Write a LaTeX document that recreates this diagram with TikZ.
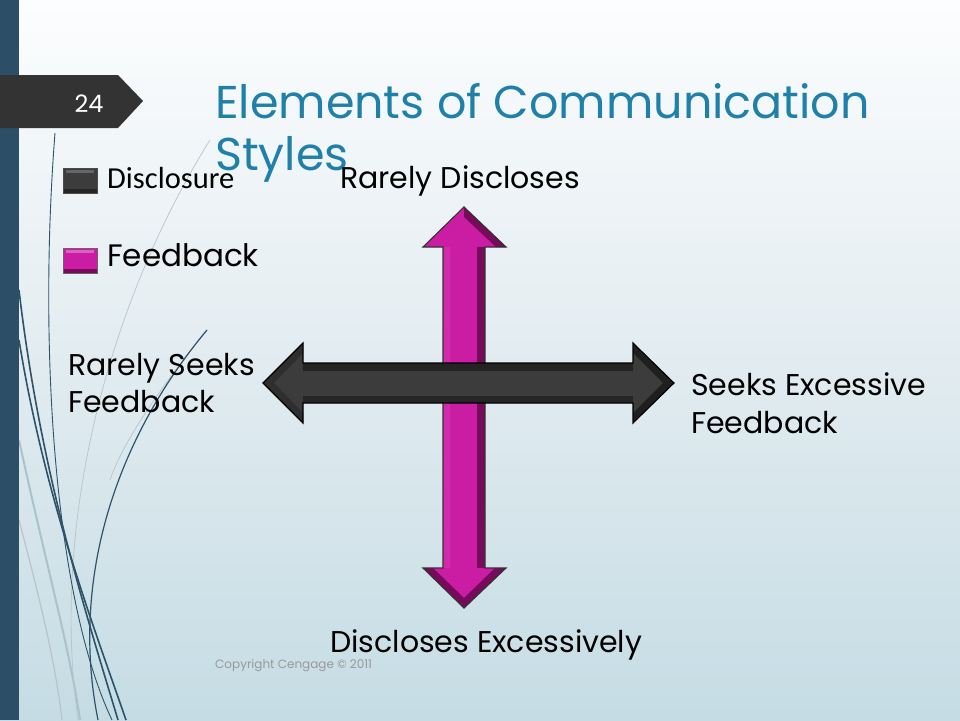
\documentclass[tikz,border=0pt]{standalone}
\usepackage{fontspec}
\setmainfont{Poppins}
\newfontfamily\calib{Carlito}
\definecolor{bgtop}{HTML}{FCFDFE}
\definecolor{bgmid}{HTML}{E2ECF0}
\definecolor{bgbot}{HTML}{C5DCE4}
\definecolor{barblue}{HTML}{2C4F67}
\definecolor{tabgray}{HTML}{333333}
\definecolor{titleblue}{HTML}{1F80A9}
\definecolor{magmain}{HTML}{CB1DA3}
\definecolor{magdark}{HTML}{760B5B}
\definecolor{maglight}{HTML}{D22AAD}
\definecolor{darkmain}{HTML}{3C3C3C}
\definecolor{darkband}{HTML}{232323}
\definecolor{curvedark}{HTML}{2E5269}
\definecolor{curvelight}{HTML}{A9C2CC}
\definecolor{curvegray}{HTML}{B8C4CA}
\tikzset{
  lbl/.style={anchor=base west, inner sep=0pt, text=black},
  big/.style={font=\fontsize{30}{35}\selectfont},
  deco/.style={curvedark, line width=1.6pt},
  decothin/.style={curvedark, line width=0.9pt},
  decolight/.style={curvelight, line width=2pt},
  arrowline/.style={line width=1.1pt, line join=miter}
}
\begin{document}
\begin{tikzpicture}[x=1pt,y=-1pt]
\useasboundingbox (0,0) rectangle (960,720);
% background
\shade[top color=bgtop, bottom color=bgbot, middle color=bgmid] (0,0) rectangle (960,720);
% decorative curves
\draw[decolight] (19,440) .. controls (45,560) and (70,650) .. (80,720);
\draw[decolight, curvegray, line width=1.2pt] (19,520) .. controls (40,600) and (55,660) .. (62,720);
\draw[curvegray, line width=0.7pt] (210,140) .. controls (110,300) and (50,520) .. (78,720);
\draw[curvegray, line width=0.7pt] (207,330) .. controls (150,400) and (120,450) .. (110,480);
\draw[decothin] (55,133) .. controls (38,350) and (55,600) .. (112,720);
\draw[deco] (19,290) .. controls (40,470) and (85,610) .. (118,720);
\draw[deco] (19,340) .. controls (45,500) and (95,630) .. (126,720);
\draw[decothin, line width=1.2pt] (207,330) .. controls (115,440) and (70,580) .. (98,720);
% left bar
\fill[barblue] (0,0) rectangle (19,720);
% slide-number tab
\fill[tabgray] (0,75) -- (118,75) -- (143,101) -- (118,128) -- (0,128) -- cycle;
\node[anchor=base, text=white, inner sep=0pt, font=\fontsize{24}{28}\selectfont] (num) at (89,112) {24};
% title
\node[anchor=base west, inner sep=0pt, text=titleblue, font=\fontsize{46}{54}\selectfont] (title1) at (215,118) {Elements of Communication};
\node[anchor=base west, inner sep=0pt, text=titleblue, font=\fontsize{46}{54}\selectfont] (title2) at (215,170) {Styles};
% legend
\fill[darkmain] (63,168) rectangle (97,193);
\fill[black!85] (63,189) rectangle (97,193);
\fill[black!60] (66,170) rectangle (94,173);
\draw[black!70, line width=0.8pt] (63,168) rectangle (97,193);
\node[lbl, font=\calib\fontsize{30.5}{35}\selectfont] (legd) at (107,188) {Disclosure};
\fill[magmain] (63,248) rectangle (97,273);
\fill[magdark] (63,269) rectangle (97,273);
\fill[maglight!75!white] (66,250) rectangle (94,253);
\draw[black!60, line width=0.8pt] (63,248) rectangle (97,273);
\node[lbl, font=\fontsize{31}{36}\selectfont] (legf) at (107,266) {Feedback};
% vertical (feedback) arrow
\fill[magmain] (464,207) -- (506,247) -- (485,247) -- (485,568) -- (506,568) -- (464,608) -- (423,568) -- (443,568) -- (443,247) -- (423,247) -- cycle;
\fill[magdark] (477,247) rectangle (485,568);
\fill[magdark] (464,207) -- (506,247) -- (496,247) -- (464,217) -- cycle;
\fill[maglight] (443,247) rectangle (450,568);
\fill[magdark] (423,568) -- (464,608) -- (506,568) -- (495,568) -- (464,598) -- (433,568) -- cycle;
\draw[arrowline, black!80] (464,207) -- (506,247) -- (485,247) -- (485,568) -- (506,568) -- (464,608) -- (423,568) -- (443,568) -- (443,247) -- (423,247) -- cycle;
% horizontal (disclosure) arrow
\fill[darkmain] (263,383) -- (303,343) -- (303,363) -- (633,363) -- (633,343) -- (674,383) -- (633,423) -- (633,403) -- (303,403) -- (303,423) -- cycle;
\fill[darkband] (303,363) rectangle (633,371);
\fill[black!85] (303,396) rectangle (633,403);
\fill[black!88] (633,343) -- (674,383) -- (633,423) -- (633,413) -- (663,383) -- (633,353) -- cycle;
\fill[black!82] (303,343) -- (263,383) -- (303,423) -- (303,413) -- (274,383) -- (303,353) -- cycle;
\draw[arrowline, black] (263,383) -- (303,343) -- (303,363) -- (633,363) -- (633,343) -- (674,383) -- (633,423) -- (633,403) -- (303,403) -- (303,423) -- cycle;
% axis labels
\node[lbl, big] (top) at (340,188) {Rarely Discloses};
\node[lbl, big] (bot) at (330,652) {Discloses Excessively};
\node[lbl, big] (left1) at (68,375) {Rarely Seeks};
\node[lbl, big] (left2) at (68,412) {Feedback};
\node[lbl, big] (right1) at (691,395) {Seeks Excessive};
\node[lbl, big] (right2) at (691,433) {Feedback};
% copyright
\node[anchor=base west, inner sep=0pt, text=black!40, font=\fontsize{12}{14}\selectfont] (copy) at (215,668) {Copyright Cengage © 2011};
\end{tikzpicture}
\end{document}
